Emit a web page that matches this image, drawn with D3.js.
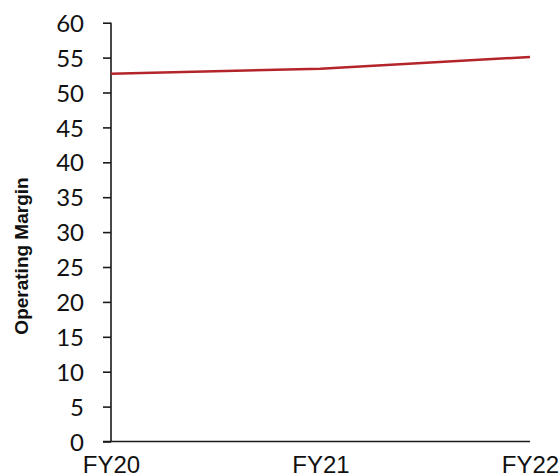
<!DOCTYPE html>
<html><head><meta charset="utf-8">
<script src="https://cdn.jsdelivr.net/npm/d3@7"></script>
<style>body{margin:0;background:#fff}svg{display:block}</style>
</head><body>
<svg id="c" width="560" height="476"></svg>
<script>
const categories = ["FY20", "FY21", "FY22"];
const margin = [52.7, 53.4, 55.1];
const yTicks = [0,5,10,15,20,25,30,35,40,45,50,55,60];

const svg = d3.select("#c");
const x = d3.scalePoint().domain(categories).range([111, 530]);
const y = d3.scaleLinear().domain([0, 60]).range([441.5, 22.7]);

// y axis
const ya = svg.append("g").attr("transform","translate(111,0)")
  .call(d3.axisLeft(y).tickValues(yTicks).tickSize(8).tickPadding(19).tickFormat(d3.format("d")));
ya.select(".domain").attr("stroke","#1a1a1a").attr("stroke-width",1.6).attr("d","M0,"+y(60)+"V"+y(0));
ya.selectAll(".tick line").attr("stroke","#1a1a1a").attr("stroke-width",1.6);
ya.selectAll(".tick text").attr("font-family","Lato, 'Open Sans', sans-serif").attr("font-size",24).attr("fill","#111").attr("dy","0.36em");

// x axis
const xa = svg.append("g").attr("transform","translate(0,"+y(0)+")")
  .call(d3.axisBottom(x).tickSize(0).tickPadding(14));
xa.select(".domain").attr("stroke","#1a1a1a").attr("stroke-width",1.6).attr("d","M103,0H530");
xa.selectAll(".tick text").attr("font-family","'Liberation Sans', Arial, sans-serif").attr("font-size",24).attr("fill","#111");

// line
const line = d3.line().x((d,i)=>x(categories[i])).y(d=>y(d));
svg.append("path").datum(margin).attr("d",line).attr("fill","none")
  .attr("stroke","#b3252b").attr("stroke-width",2.5);

// y label
svg.append("text").attr("transform","translate(28,256) rotate(-90)")
  .attr("text-anchor","middle").attr("font-family","'Liberation Sans', Arial, sans-serif")
  .attr("font-weight","bold").attr("font-size",19).attr("fill","#111").text("Operating Margin");
</script>
</body></html>
